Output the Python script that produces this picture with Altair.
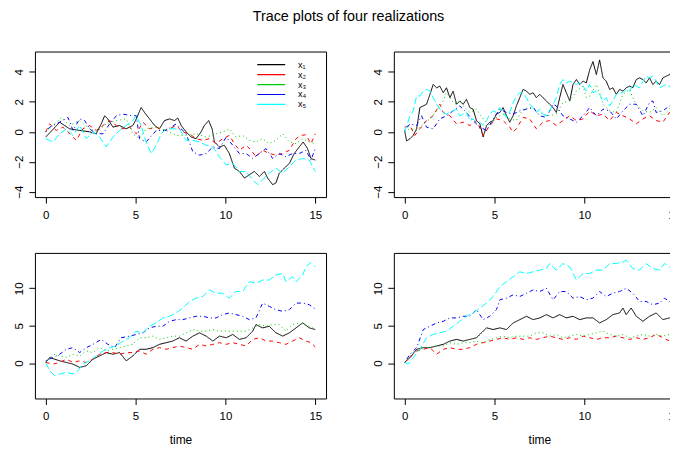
import altair as alt
import pandas as pd

TITLE = "Trace plots of four realizations"
SERIES = ["x\u2081", "x\u2082", "x\u2083", "x\u2084", "x\u2085"]
COLORS = ["#000000", "#FF0000", "#00CD00", "#0000FF", "#00FFFF"]
DASHES = [[1, 0], [4, 4], [1, 3], [1, 3, 4, 3], [7, 3]]
X_TICKS = [0, 5, 10, 15]
Y_TICKS_TOP = [-4, -2, 0, 2, 4]
Y_TICKS_BOTTOM = [0, 5, 10]
X_DOMAIN = [-0.6, 15.6]
Y_DOMAIN_TOP = [-4.36, 5.36]
Y_DOMAIN_BOTTOM = [-4.72, 14.72]

# ---- realization 1 (top left) : (time, value)
P1_X1 = [(0,-0.35),(0.78,0.64),(1.33,0.2),(1.89,0.09),(2.44,0),(2.81,-0.13),(3.09,0.53),(3.28,1.07),(3.46,0.86),(3.74,0.31),(4.11,0.42),(4.48,0.2),(4.85,0.42),(5.04,0.86),(5.31,1.62),(5.5,1.29),(5.78,0.86),(6.06,0.42),(6.33,0.2),(6.61,0.75),(6.89,0.86),(7.17,0.75),(7.35,0.92),(7.54,0.42),(7.81,0),(8.09,-0.35),(8.37,-0.46),(8.65,0),(8.83,0.42),(9.07,0.75),(9.26,0.2),(9.39,-0.68),(9.67,-1.01),(9.94,-0.9),(10.22,-1.45),(10.5,-2.43),(10.78,-2.65),(11.06,-3.09),(11.33,-2.87),(11.61,-2.65),(11.89,-2.98),(12.17,-2.65),(12.35,-3.09),(12.63,-3.53),(12.81,-3.42),(13.0,-2.76),(13.28,-2.43),(13.56,-2.11),(13.83,-1.45),(14.11,-1.01),(14.33,-0.68),(14.57,-1.12),(14.76,-1.78),(15,-1.89)]
P1_X2 = [(0,0),(0.22,0.53),(0.59,0.09),(0.96,0.31),(1.7,-0.57),(2.07,0.2),(2.44,0.42),(2.81,0.09),(3.19,0.42),(3.56,0.75),(3.93,0.42),(4.3,0.2),(4.67,0.31),(5.04,-0.13),(5.41,0.64),(5.78,0.2),(6.15,0.31),(6.52,0.09),(6.89,0.2),(7.26,0.42),(7.63,-0.02),(8.0,-0.13),(8.37,-0.46),(8.74,-0.57),(9.11,-0.46),(9.48,-0.79),(9.85,-0.46),(10.22,-0.24),(10.5,-0.79),(10.78,-1.23),(11.15,-0.9),(11.43,-1.23),(11.7,-1.67),(12.07,-1.23),(12.44,-1.45),(12.81,-1.56),(13.19,-1.45),(13.56,-1.23),(13.93,-0.46),(14.2,-0.24),(14.48,-0.2),(14.76,-0.79),(15,-0.13)]
P1_X3 = [(0,0),(0.41,0.42),(0.87,0.96),(1.33,0.42),(1.89,0.75),(2.35,0.31),(2.81,-0.02),(3.37,0.53),(3.93,0.75),(4.48,0.86),(4.85,-0.13),(5.22,-0.46),(5.59,0.2),(6.15,0.31),(6.7,0.09),(7.26,-0.24),(7.81,-0.24),(8.37,-0.13),(8.93,-0.35),(9.48,-0.13),(9.85,-0.02),(10.22,0.2),(10.59,-0.35),(10.96,-0.24),(11.33,-0.57),(11.7,-0.68),(12.07,-0.46),(12.44,-0.79),(12.81,-0.57),(13.19,-0.13),(13.56,-0.68),(13.93,-0.79),(14.3,-0.46),(14.67,-0.68),(15,-0.79)]
P1_X4 = [(0,0),(0.22,0.31),(0.59,0.53),(0.96,0.75),(1.24,0.96),(1.52,0.09),(1.89,0.86),(2.17,0.75),(2.44,0.2),(2.81,-0.13),(3.19,-0.13),(3.56,0.53),(3.93,1.07),(4.3,1.18),(4.67,1.1),(5.04,1.07),(5.22,-0.46),(5.59,-0.68),(6.15,0.09),(6.7,0.09),(7.26,0.53),(7.81,-0.13),(8.19,-1.34),(8.56,-1.56),(8.93,-1.45),(9.3,-1.01),(9.67,-1.12),(10.04,-0.35),(10.41,-0.9),(10.78,-1.45),(11.15,-1.45),(11.52,-1.78),(11.89,-1.45),(12.26,-1.12),(12.63,-1.78),(13.0,-1.45),(13.37,-1.67),(13.74,-1.45),(14.11,-1.45),(14.48,-1.23),(14.76,-1.89),(15,-1.12)]
P1_X5 = [(0,-0.46),(0.41,-0.68),(0.78,-0.13),(1.15,0.2),(1.52,-0.24),(1.89,0.42),(2.26,-0.46),(2.63,-0.02),(3.0,-0.35),(3.37,-1.01),(3.74,-0.35),(4.11,0.09),(4.48,0.42),(4.85,0.75),(5.04,1.07),(5.31,0.42),(5.59,-0.68),(5.87,-1.45),(6.15,-0.9),(6.43,-0.13),(6.7,0.2),(7.07,0.2),(7.44,0.2),(7.81,-0.57),(8.19,-0.57),(8.56,-0.68),(8.93,-0.9),(9.3,-1.01),(9.67,-1.67),(10.04,-2.21),(10.41,-2.11),(10.78,-2.65),(11.15,-2.65),(11.52,-3.2),(11.8,-3.53),(12.07,-3.2),(12.44,-2.76),(12.81,-2.43),(13.19,-2.76),(13.56,-2.32),(13.93,-1.89),(14.3,-1.78),(14.67,-1.89),(15,-2.65)]

# ---- realization 2 (top right)
P2_X1 = [(0,0.09),(0.11,-0.61),(0.3,-0.46),(0.48,-0.24),(0.67,0.2),(0.85,1.62),(1.04,1.73),(1.22,1.84),(1.41,2.5),(1.59,3.16),(1.78,2.94),(1.96,3.05),(2.15,2.61),(2.33,2.94),(2.52,2.28),(2.7,2.72),(2.89,1.84),(3.07,2.06),(3.26,1.84),(3.44,2.17),(3.63,1.62),(3.81,1.51),(4.0,0.75),(4.19,0.53),(4.37,-0.35),(4.56,0.42),(4.74,0.64),(4.93,0.75),(5.11,1.18),(5.3,1.29),(5.48,1.62),(5.67,1.07),(5.85,0.64),(6.04,1.07),(6.22,1.73),(6.41,2.28),(6.59,2.83),(6.78,2.72),(6.96,2.5),(7.15,2.61),(7.33,2.28),(7.52,2.5),(7.7,2.28),(7.89,2.06),(8.07,1.84),(8.26,1.62),(8.44,1.29),(8.63,2.28),(8.81,3.16),(9.0,2.61),(9.19,2.06),(9.37,3.16),(9.56,3.49),(9.74,3.16),(9.93,3.38),(10.11,3.27),(10.3,4.14),(10.48,4.69),(10.67,3.82),(10.85,4.8),(11.04,3.6),(11.22,3.38),(11.41,2.83),(11.59,2.94),(11.78,2.5),(11.96,2.83),(12.15,2.72),(12.33,2.94),(12.52,3.05),(12.7,2.94),(12.89,3.49),(13.07,3.6),(13.26,3.49),(13.44,3.27),(13.63,3.6),(13.81,3.16),(14.0,3.38),(14.19,3.16),(14.37,3.6),(14.56,3.71),(14.74,3.82),(14.93,4.14),(15,4.14)]
P2_X2 = [(0,0.31),(0.3,0.42),(0.57,-0.24),(0.85,0.2),(1.22,0.75),(1.59,1.07),(1.96,1.84),(2.15,1.29),(2.52,1.07),(2.89,0.53),(3.26,0.64),(3.63,0.42),(4.0,0.75),(4.37,-0.24),(4.74,0.42),(5.11,0.86),(5.48,0.75),(5.85,0.31),(6.04,-0.02),(6.22,0.2),(6.59,0.96),(6.96,0.86),(7.33,0.2),(7.7,0.64),(8.07,0.75),(8.44,0.42),(8.81,0.75),(9.19,1.07),(9.56,0.75),(9.93,0.86),(10.3,1.4),(10.67,1.07),(11.04,1.18),(11.41,0.75),(11.78,1.29),(12.15,1.07),(12.52,0.86),(12.89,0.53),(13.26,0.86),(13.63,1.07),(14.0,0.75),(14.37,0.64),(14.74,1.29),(15,1.29)]
P2_X3 = [(0,0.04),(0.3,0.2),(0.67,0.09),(1.04,0.53),(1.41,0.86),(1.78,1.4),(2.06,1.84),(2.33,2.61),(2.52,2.28),(2.7,1.95),(2.89,1.84),(3.07,2.06),(3.26,1.73),(3.63,1.29),(4.0,1.51),(4.37,0.86),(4.74,0.42),(5.11,0.96),(5.48,1.18),(5.85,0.86),(6.22,0.75),(6.59,1.51),(6.96,1.62),(7.33,1.51),(7.7,1.18),(8.07,1.07),(8.44,1.18),(8.81,1.95),(9.19,2.06),(9.56,2.72),(9.93,3.05),(10.11,2.28),(10.3,2.39),(10.67,3.16),(10.85,2.61),(11.04,1.84),(11.41,1.4),(11.78,1.29),(12.15,2.5),(12.52,2.83),(12.7,2.28),(12.89,1.84),(13.26,1.4),(13.63,1.29),(14.0,1.62),(14.37,1.07),(14.74,1.51),(15,2.06)]
P2_X4 = [(0,0.09),(0.3,0.53),(0.67,0.42),(0.94,1.07),(1.22,0.31),(1.59,0.2),(1.96,0.86),(2.33,1.07),(2.7,1.4),(3.07,1.73),(3.44,1.29),(3.81,0.75),(4.19,0.31),(4.56,0.09),(4.93,0.86),(5.3,1.51),(5.67,1.29),(6.04,1.18),(6.41,1.4),(6.78,1.51),(7.15,1.62),(7.52,1.07),(7.89,0.96),(8.26,1.84),(8.44,1.73),(8.81,1.07),(9.19,0.86),(9.56,0.64),(9.93,1.07),(10.3,1.62),(10.67,1.07),(11.04,1.51),(11.41,1.4),(11.78,0.86),(12.15,1.4),(12.52,1.84),(12.89,1.84),(13.26,1.07),(13.63,1.95),(13.81,2.06),(14.0,1.29),(14.37,1.4),(14.74,1.73),(15,1.73)]
P2_X5 = [(0,-0.02),(0.3,1.07),(0.48,1.4),(0.67,2.39),(0.85,2.39),(1.04,2.72),(1.22,2.83),(1.41,2.72),(1.59,2.28),(1.78,1.84),(1.96,1.51),(2.15,1.29),(2.33,1.18),(2.52,1.29),(2.7,1.4),(2.89,1.51),(3.07,1.07),(3.26,1.18),(3.44,1.29),(3.63,0.75),(3.81,0.86),(4.0,0.64),(4.19,0.64),(4.37,0.42),(4.56,0.75),(4.74,1.18),(4.93,1.4),(5.11,1.29),(5.3,1.62),(5.48,1.29),(5.67,0.96),(5.85,1.29),(6.04,1.95),(6.22,2.39),(6.41,2.61),(6.59,2.61),(6.78,2.28),(6.96,1.84),(7.15,1.62),(7.33,1.29),(7.52,1.51),(7.7,1.18),(7.89,1.07),(8.07,1.4),(8.26,1.84),(8.44,2.28),(8.63,3.16),(8.81,3.49),(9.0,3.27),(9.19,3.38),(9.37,3.27),(9.56,3.16),(9.74,3.27),(9.93,3.05),(10.11,2.72),(10.3,3.16),(10.48,2.61),(10.67,2.72),(10.85,2.5),(11.04,2.06),(11.22,2.28),(11.41,1.73),(11.59,2.06),(11.78,2.5),(11.96,2.61),(12.15,2.61),(12.33,2.83),(12.52,2.72),(12.7,3.16),(12.89,3.05),(13.07,2.94),(13.26,3.38),(13.44,3.71),(13.63,3.6),(13.81,3.71),(14.0,3.38),(14.19,2.94),(14.37,3.05),(14.56,3.16),(14.74,3.05),(14.93,2.5),(15,2.39)]

# ---- realization 3 (bottom left)
P3_X1 = [(0,0.09),(0.22,0.75),(0.5,0.53),(0.78,0.31),(1.15,0.09),(1.52,-0.13),(1.89,-0.57),(2.26,-0.35),(2.63,0.53),(3.0,0.97),(3.37,1.41),(3.74,1.19),(4.11,1.41),(4.48,0.31),(4.85,0.97),(5.22,1.85),(5.59,1.85),(5.96,2.07),(6.33,2.51),(6.7,2.73),(7.07,2.95),(7.44,3.39),(7.81,2.95),(8.19,3.61),(8.56,4.05),(8.93,3.61),(9.3,2.95),(9.67,3.61),(10.04,3.39),(10.41,3.83),(10.78,3.17),(11.15,3.39),(11.52,4.27),(11.7,5.15),(12.07,4.71),(12.44,4.93),(12.81,4.05),(13.19,3.61),(13.56,4.05),(13.93,4.71),(14.3,5.37),(14.67,4.71),(15,4.49)]
P3_X2 = [(0,0.09),(0.41,-0.13),(0.78,0.09),(1.15,0.53),(1.52,0.09),(1.89,0.31),(2.26,0.09),(2.63,0.53),(3.0,1.19),(3.37,1.41),(3.74,1.41),(4.11,1.19),(4.48,1.41),(4.85,1.41),(5.22,1.63),(5.59,1.19),(5.96,1.85),(6.33,2.07),(6.7,1.85),(7.07,2.07),(7.44,2.29),(7.81,2.07),(8.19,1.85),(8.56,2.51),(8.93,2.29),(9.3,2.51),(9.67,2.73),(10.04,2.51),(10.41,2.73),(10.78,2.51),(11.15,2.29),(11.52,3.17),(11.89,3.39),(12.26,2.95),(12.63,2.95),(13.0,2.73),(13.37,2.51),(13.74,2.95),(14.11,3.39),(14.48,2.95),(14.76,2.73),(15,2.16)]
P3_X3 = [(0,0.09),(0.41,1.19),(0.78,0.97),(1.15,0.75),(1.52,1.19),(1.89,0.97),(2.26,1.63),(2.63,1.41),(3.0,2.07),(3.37,1.63),(3.74,1.85),(4.11,2.07),(4.48,2.29),(4.85,2.51),(5.22,3.39),(5.59,3.39),(5.96,3.61),(6.33,3.17),(6.7,3.39),(7.07,3.61),(7.44,3.61),(7.81,4.05),(8.19,4.49),(8.56,4.27),(8.93,4.27),(9.3,4.49),(9.67,4.27),(10.04,4.27),(10.41,4.27),(10.78,4.27),(11.15,4.27),(11.52,4.71),(11.89,5.15),(12.26,4.93),(12.63,5.15),(13.0,5.15),(13.37,4.27),(13.74,5.15),(14.11,5.37),(14.48,5.15),(14.85,4.71),(15,4.49)]
P3_X4 = [(0,0.31),(0.41,0.75),(0.78,1.19),(1.15,1.85),(1.52,2.07),(1.89,1.41),(2.26,2.07),(2.63,2.51),(3.09,3.17),(3.46,2.51),(3.83,2.07),(4.2,3.39),(4.67,3.61),(5.04,3.83),(5.41,4.05),(5.78,4.71),(6.15,4.93),(6.52,4.93),(6.89,5.59),(7.26,5.81),(7.63,5.81),(8.0,6.04),(8.37,6.26),(8.74,6.26),(9.11,6.04),(9.48,6.04),(9.85,6.48),(10.22,6.7),(10.59,6.48),(10.96,6.26),(11.33,5.81),(11.7,6.04),(12.07,8.02),(12.44,7.58),(12.81,7.14),(13.19,6.92),(13.56,7.14),(13.93,8.02),(14.3,8.02),(14.67,7.8),(15,7.22)]
P3_X5 = [(0,0.09),(0.22,-1.01),(0.5,-1.67),(0.78,-1.45),(1.15,-1.23),(1.52,-1.45),(1.8,-1.01),(2.07,-0.13),(2.44,0.31),(2.81,0.97),(3.19,1.63),(3.56,2.07),(3.93,2.29),(4.3,2.95),(4.67,3.39),(5.04,4.27),(5.41,4.05),(5.78,4.93),(6.15,5.37),(6.52,6.04),(6.89,6.26),(7.26,6.7),(7.63,7.36),(8.0,8.24),(8.37,8.68),(8.74,8.9),(9.11,9.78),(9.48,9.34),(9.85,9.34),(10.22,8.68),(10.59,9.56),(10.96,9.56),(11.33,10.88),(11.7,10.66),(12.07,11.1),(12.44,11.1),(12.81,11.76),(13.19,11.98),(13.37,10.88),(13.74,11.54),(13.93,10.88),(14.3,11.76),(14.48,12.86),(14.76,13.44),(15,12.86)]

# ---- realization 4 (bottom right)
P4_X1 = [(0,0.09),(0.3,0.75),(0.67,1.85),(1.04,2.07),(1.41,2.07),(1.78,2.29),(2.15,2.51),(2.52,2.95),(2.89,3.17),(3.26,2.95),(3.63,3.17),(4.0,3.39),(4.37,4.27),(4.56,4.71),(4.93,4.49),(5.3,4.71),(5.67,4.49),(6.04,5.37),(6.41,5.81),(6.78,6.26),(7.15,5.81),(7.52,6.04),(7.89,6.48),(8.26,6.04),(8.63,6.48),(9.0,6.04),(9.37,6.26),(9.74,5.81),(10.11,6.04),(10.48,6.04),(10.85,5.37),(11.22,5.81),(11.59,6.48),(11.96,6.7),(12.15,7.36),(12.33,6.48),(12.61,7.36),(12.89,6.26),(13.26,5.59),(13.63,6.26),(14.0,6.7),(14.37,5.81),(14.74,6.04),(15,6.04)]
P4_X2 = [(0,0.09),(0.3,0.75),(0.67,1.63),(1.04,1.85),(1.41,2.07),(1.78,1.19),(2.15,1.85),(2.52,2.07),(2.89,1.85),(3.26,1.85),(3.63,2.07),(4.0,2.51),(4.37,2.73),(4.74,2.95),(5.11,3.17),(5.48,3.39),(5.85,3.17),(6.22,3.39),(6.59,3.17),(6.96,3.39),(7.33,3.17),(7.7,3.39),(8.07,3.61),(8.44,3.39),(8.81,3.17),(9.19,3.39),(9.56,3.17),(9.93,3.61),(10.3,3.39),(10.67,3.17),(11.04,3.39),(11.41,3.39),(11.78,3.61),(12.15,3.39),(12.52,3.17),(12.89,3.39),(13.26,3.17),(13.63,3.39),(14.0,3.83),(14.37,3.39),(14.74,2.95),(15,2.73)]
P4_X3 = [(0,0.09),(0.3,0.97),(0.67,1.63),(1.04,2.07),(1.41,2.07),(1.78,2.29),(2.15,2.29),(2.52,2.73),(2.89,2.51),(3.26,2.73),(3.63,2.73),(4.0,2.95),(4.37,2.73),(4.74,3.17),(5.11,3.39),(5.48,3.61),(5.85,3.39),(6.22,3.61),(6.59,3.61),(6.96,3.61),(7.33,4.05),(7.7,4.05),(8.07,3.61),(8.44,3.83),(8.81,3.39),(9.19,3.61),(9.56,3.83),(9.93,3.61),(10.3,3.83),(10.67,4.05),(11.04,4.27),(11.41,3.83),(11.78,3.61),(12.15,3.83),(12.52,3.39),(12.89,3.61),(13.26,3.83),(13.63,3.61),(14.0,3.83),(14.37,3.61),(14.74,3.83),(15,4.05)]
P4_X4 = [(0,0.09),(0.3,1.19),(0.67,2.07),(1.04,4.49),(1.41,4.93),(1.78,5.37),(2.15,5.59),(2.52,6.04),(2.89,6.04),(3.26,6.26),(3.63,6.26),(4.0,7.14),(4.37,5.81),(4.74,6.26),(5.11,7.14),(5.3,8.46),(5.67,8.68),(6.04,9.12),(6.41,8.9),(6.78,9.34),(7.15,9.78),(7.52,9.56),(7.89,10.0),(8.26,8.46),(8.63,9.56),(9.0,9.56),(9.37,8.68),(9.74,8.9),(10.11,8.46),(10.48,8.68),(10.85,9.56),(11.22,8.9),(11.59,9.34),(11.96,9.56),(12.33,10.0),(12.7,9.34),(13.07,8.24),(13.44,8.24),(13.81,7.8),(14.19,8.02),(14.46,8.68),(14.74,8.24),(15,7.58)]
P4_X5 = [(0,0.09),(0.2,-0.13),(0.48,0.75),(0.85,1.85),(1.22,3.39),(1.59,3.83),(1.96,4.05),(2.33,4.27),(2.7,4.93),(3.07,5.59),(3.44,6.26),(3.81,6.7),(4.19,7.36),(4.56,8.02),(4.93,8.9),(5.3,10.22),(5.67,10.88),(6.04,11.54),(6.41,12.2),(6.78,11.98),(7.15,12.2),(7.52,12.42),(7.89,12.64),(8.07,13.3),(8.44,12.42),(8.81,13.3),(9.19,12.86),(9.56,11.1),(9.93,11.98),(10.3,11.98),(10.67,12.42),(11.04,12.42),(11.41,13.3),(11.78,13.3),(12.15,13.52),(12.33,13.74),(12.7,12.64),(13.07,12.42),(13.44,13.3),(13.81,12.64),(14.19,12.42),(14.46,13.3),(14.74,12.86),(15,12.42)]

PANELS = [
    [P1_X1, P1_X2, P1_X3, P1_X4, P1_X5],
    [P2_X1, P2_X2, P2_X3, P2_X4, P2_X5],
    [P3_X1, P3_X2, P3_X3, P3_X4, P3_X5],
    [P4_X1, P4_X2, P4_X3, P4_X4, P4_X5],
]

FONT = "Liberation Sans"
W, H = 292, 146


def panel(series_list, y_domain, y_ticks, bottom, legend):
    layers = []
    for k, (pts, name) in enumerate(zip(series_list, SERIES)):
        df = pd.DataFrame(pts, columns=["time", "value"])
        df["series"] = name
        color_leg = None
        if legend and k == 0:
            color_leg = alt.Legend(
                title=None, orient="none", legendX=222, legendY=8.5,
                symbolType="stroke", symbolSize=784, symbolStrokeWidth=1.2,
                clipHeight=9.2, rowPadding=0, padding=0, offset=0,
                labelOffset=12, labelFont=FONT, labelFontSize=9,
                labelColor="black", labelBaseline="middle",
            )
        layer = alt.Chart(df).mark_line(
            strokeWidth=1, strokeDash=DASHES[k], clip=True
        ).encode(
            x=alt.X("time:Q", scale=alt.Scale(domain=X_DOMAIN, nice=False, zero=False),
                    axis=alt.Axis(values=X_TICKS, title="time" if bottom else None,
                                  grid=False, domain=False, tickSize=6, tickColor="black",
                                  labelPadding=6, labelFont=FONT, labelFontSize=11.5,
                                  labelColor="black", titleFont=FONT, titleFontSize=12,
                                  titleFontWeight="normal", titleColor="black",
                                  titlePadding=13, labelFlush=False)),
            y=alt.Y("value:Q", scale=alt.Scale(domain=y_domain, nice=False, zero=False),
                    axis=alt.Axis(values=y_ticks, title=None, grid=False, domain=False,
                                  tickSize=6, tickColor="black", labelAngle=270,
                                  labelAlign="center", labelBaseline="bottom",
                                  labelPadding=4, labelFont=FONT, labelFontSize=11.5,
                                  labelColor="black", labelFlush=False)),
            color=alt.Color("series:N",
                            scale=alt.Scale(domain=SERIES, range=COLORS),
                            legend=color_leg),
            order=alt.Order("time:Q"),
        )
        layers.append(layer)
    return alt.layer(*layers).properties(width=W, height=H)


charts = [
    panel(PANELS[0], Y_DOMAIN_TOP, Y_TICKS_TOP, False, True),
    panel(PANELS[1], Y_DOMAIN_TOP, Y_TICKS_TOP, False, False),
    panel(PANELS[2], Y_DOMAIN_BOTTOM, Y_TICKS_BOTTOM, True, False),
    panel(PANELS[3], Y_DOMAIN_BOTTOM, Y_TICKS_BOTTOM, True, False),
]

chart = alt.concat(*charts, columns=2).properties(
    spacing={"row": 56, "column": 68},
    bounds="flush",
    title=alt.TitleParams(TITLE, anchor="middle", fontSize=14.4, fontWeight="normal",
                          font=FONT, color="black", offset=26.3, dx=-1),
    padding={"left": 5, "top": 0, "right": -16, "bottom": 0},
    background="white",
).resolve_scale(color="independent").resolve_legend(color="independent").configure_view(
    stroke="black", strokeWidth=1
)

chart.save("out.html", embed_options={"renderer": "svg", "actions": False})
